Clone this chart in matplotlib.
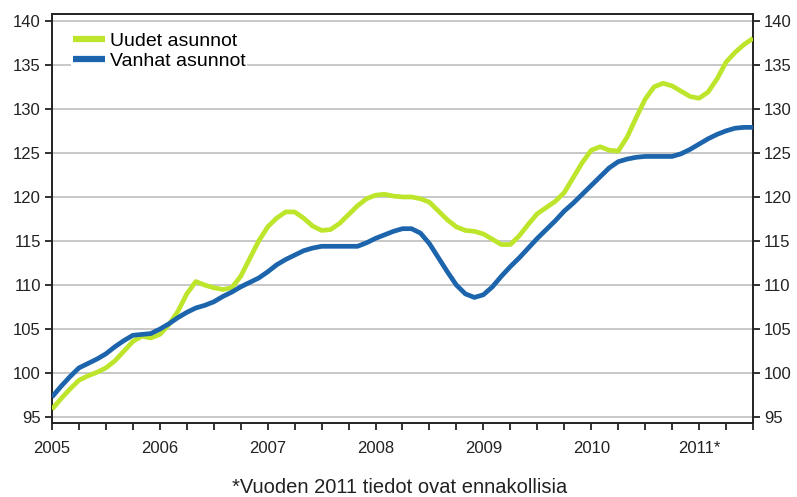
# Uusien ja vanhojen asuntojen hintaindeksi, kuukausittain 2005 - 2011

import numpy as np
import matplotlib.pyplot as plt

plt.rcParams['font.family'] = ['Liberation Sans', 'DejaVu Sans']

# kuukaudet tammikuusta 2005 alkaen
months = np.arange(79)

uudet = [95.9, 97.1, 98.2, 99.2, 99.7, 100.1, 100.6, 101.4, 102.5, 103.6, 104.2, 104.0,
         104.4, 105.5, 107.0, 109.0, 110.4, 110.0, 109.7, 109.5, 109.7, 111.0, 113.0, 115.0,
         116.6, 117.6, 118.3, 118.3, 117.6, 116.7, 116.2, 116.3, 117.0, 118.0, 119.0, 119.8,
         120.2, 120.3, 120.1, 120.0, 120.0, 119.8, 119.4, 118.4, 117.4, 116.6, 116.2, 116.1,
         115.8, 115.2, 114.6, 114.6, 115.6, 116.9, 118.1, 118.8, 119.5, 120.5, 122.2, 123.9,
         125.3, 125.7, 125.3, 125.2, 126.8, 129.0, 131.1, 132.5, 132.9, 132.6, 132.0, 131.4,
         131.2, 131.9, 133.4, 135.3, 136.4, 137.3, 138.0]

vanhat = [97.3, 98.5, 99.6, 100.6, 101.1, 101.6, 102.2, 103.0, 103.7, 104.3, 104.4, 104.5,
          105.0, 105.6, 106.3, 106.9, 107.4, 107.7, 108.1, 108.7, 109.2, 109.8, 110.3, 110.8,
          111.5, 112.3, 112.9, 113.4, 113.9, 114.2, 114.4, 114.4, 114.4, 114.4, 114.4, 114.8,
          115.3, 115.7, 116.1, 116.4, 116.4, 115.9, 114.7, 113.1, 111.5, 110.0, 109.0, 108.6,
          108.9, 109.8, 111.0, 112.1, 113.1, 114.2, 115.3, 116.3, 117.3, 118.4, 119.3, 120.3,
          121.3, 122.3, 123.3, 124.0, 124.3, 124.5, 124.6, 124.6, 124.6, 124.6, 124.9, 125.4,
          126.0, 126.6, 127.1, 127.5, 127.8, 127.9, 127.9]

year_labels = ['2005', '2006', '2007', '2008', '2009', '2010', '2011*']
y_ticks = [95, 100, 105, 110, 115, 120, 125, 130, 135, 140]

fig = plt.figure(figsize=(7.97, 4.97), dpi=100)
ax = fig.add_axes([0.0652, 0.1489, 0.8796, 0.8229])

ax.plot(months, uudet, color='#bde52b', lw=3.4, label='Uudet asunnot', zorder=3,
        solid_capstyle='butt')
ax.plot(months, vanhat, color='#1c64ac', lw=3.4, label='Vanhat asunnot', zorder=4,
        solid_capstyle='butt')

ax.set_xlim(0, 78)
ax.set_ylim(94.35, 140.76)
ax.set_yticks(y_ticks)
# neljännesvuosittaiset jakoviivat, vuosiluku vain tammikuun kohdalla
ax.set_xticks(np.arange(0, 79, 3))
ax.set_xticklabels([year_labels[i // 12] if i % 12 == 0 else '' for i in range(0, 79, 3)])

ax.grid(axis='y', color='#c4c4c4', lw=1.3)
ax.set_axisbelow(True)
for s in ax.spines.values():
    s.set_linewidth(1.4)
    s.set_color('#222222')

ax.tick_params(axis='both', direction='out', length=5, width=1.3, labelsize=12,
               colors='#222222')
ax.tick_params(axis='y', right=True, labelright=True, pad=3)
ax.tick_params(axis='x', pad=8)

leg = ax.legend(loc='upper left', bbox_to_anchor=(0.027, 0.96), fontsize=14,
                handlelength=1.65, handletextpad=0.25, labelspacing=0.12,
                borderpad=0.1, borderaxespad=0, frameon=True, fancybox=False)
leg.get_frame().set_edgecolor('none')
leg.get_frame().set_facecolor('white')
leg.get_frame().set_alpha(1)
for line in leg.get_lines():
    line.set_linewidth(4.5)

fig.text(0.502, 0.02, '*Vuoden 2011 tiedot ovat ennakollisia', ha='center', va='center',
         fontsize=14.5, color='#222222')

plt.savefig('out.png', dpi=100)
